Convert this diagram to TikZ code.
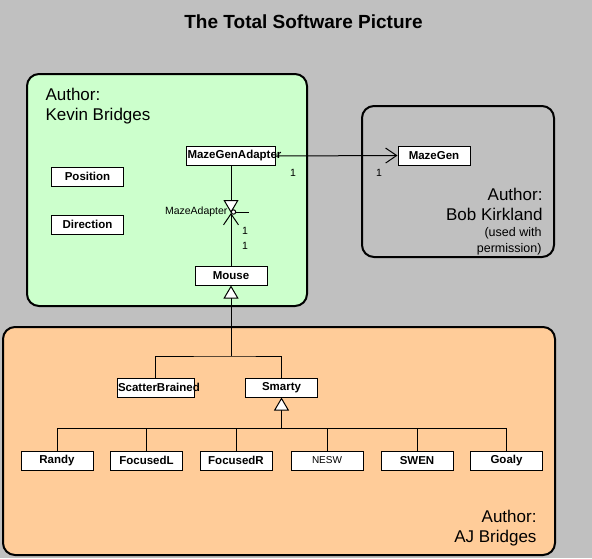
\documentclass[tikz,border=0pt]{standalone}
\usepackage{fontspec}
\setmainfont{Liberation Sans}
\usetikzlibrary{arrows.meta}
\definecolor{bggray}{HTML}{C0C0C0}
\definecolor{kevingreen}{HTML}{CCFFCC}
\definecolor{ajorange}{HTML}{FFCC99}

\tikzset{
	cls/.style={draw, fill=white, minimum width=72pt, minimum height=19pt, inner sep=0pt,
		font=\fontsize{11.5}{13}\selectfont\bfseries},
	pkg/.style={draw, line width=2pt, rounded corners=12pt},
	inherit/.style={-{Triangle[length=13pt,width=15pt,fill=white]}},
	navig/.style={-{Straight Barb[length=11pt,width=15pt]}},
	mult/.style={font=\fontsize{10.5}{12}\selectfont, inner sep=0pt},
	author/.style={font=\fontsize{17}{20}\selectfont, inner sep=0pt},
	note/.style={font=\fontsize{12.5}{15}\selectfont, inner sep=0pt}
}

\begin{document}
\begin{tikzpicture}[x=1pt,y=-1pt,line width=1pt]
		\useasboundingbox (0,0) rectangle (592,558);
		\fill[bggray] (0,0) rectangle (592,558);
		\node[font=\fontsize{19}{22}\selectfont\bfseries, anchor=base, inner sep=0pt] (title) at (303.5,28) {The Total Software Picture};

		\draw[pkg, fill=kevingreen] (27,74) rectangle (307,306);
		\draw[pkg, fill=bggray] (362,106) rectangle (554,257);
		\draw[pkg, fill=ajorange] (3,327) rectangle (555,555);

		\node[author, anchor=base west] (kevinA) at (45,100) {Author:};
		\node[author, anchor=base west] (kevinB) at (45,120) {Kevin Bridges};
		\node[author, anchor=base east] (bobA) at (543,200) {Author:};
		\node[author, anchor=base east] (bobB) at (543,220) {Bob Kirkland};
		\node[note, anchor=base east] (bobC) at (542,236) {(used with};
		\node[note, anchor=base east] (bobD) at (542,252) {permission)};
		\node[author, anchor=base east] (ajA) at (537,522) {Author:};
		\node[author, anchor=base east] (ajB) at (537,542) {AJ Bridges};

		\node[cls, minimum width=89pt] (MazeGenAdapter) at (231,156) {\makebox[87pt][l]{MazeGenAdapter}};
		\node[cls] (Position) at (87.5,176.5) {Position};
		\node[cls] (Direction) at (87.5,224.5) {Direction};
		\node[cls] (Mouse) at (231,275.5) {Mouse};
		\node[cls] (MazeGen) at (434,155.5) {MazeGen};
		\node[cls, minimum width=77pt] (ScatterBrained) at (155.5,387.5) {\makebox[75pt][l]{ScatterBrained}};
		\node[cls] (Smarty) at (281.5,387.5) {Smarty};
		\foreach \n/\x in {Randy/57,FocusedL/146.5,FocusedR/236,SWEN/417,Goaly/506.5}
			\node[cls] (\n) at (\x,460.5) {\n};
		\node[cls, font=\fontsize{10}{12}\selectfont] (NESW) at (327,460.5) {NESW};

		\draw[navig] (MazeGenAdapter.east) -- (MazeGen.west);
		\node[mult] at (293,173) {1};
		\node[mult] at (379,173) {1};

		\coordinate (ma) at (231,213);
		\draw[inherit] (MazeGenAdapter.south) -- (ma);
		\draw[navig] (Mouse.north) -- (ma);
		\draw (236,212) -- (249,212);
		\draw[fill=white] (233.5,212) circle (2.2pt);
		\node[mult, anchor=east] (MazeAdapter) at (228,212) {MazeAdapter};
		\node[mult] at (245,231) {1};
		\node[mult] at (245,246) {1};

		\coordinate (j1) at (231,356);
		\draw (ScatterBrained.north) |- (j1) -| (Smarty.north);
		\draw[inherit] (j1) -- (Mouse.south);

		\coordinate (j2) at (281.5,428);
		\foreach \n in {Randy,FocusedL,FocusedR,NESW,SWEN,Goaly}
			\draw (\n.north) |- (j2);
		\draw[inherit] (j2) -- (Smarty.south);
	\end{tikzpicture}
\end{document}
